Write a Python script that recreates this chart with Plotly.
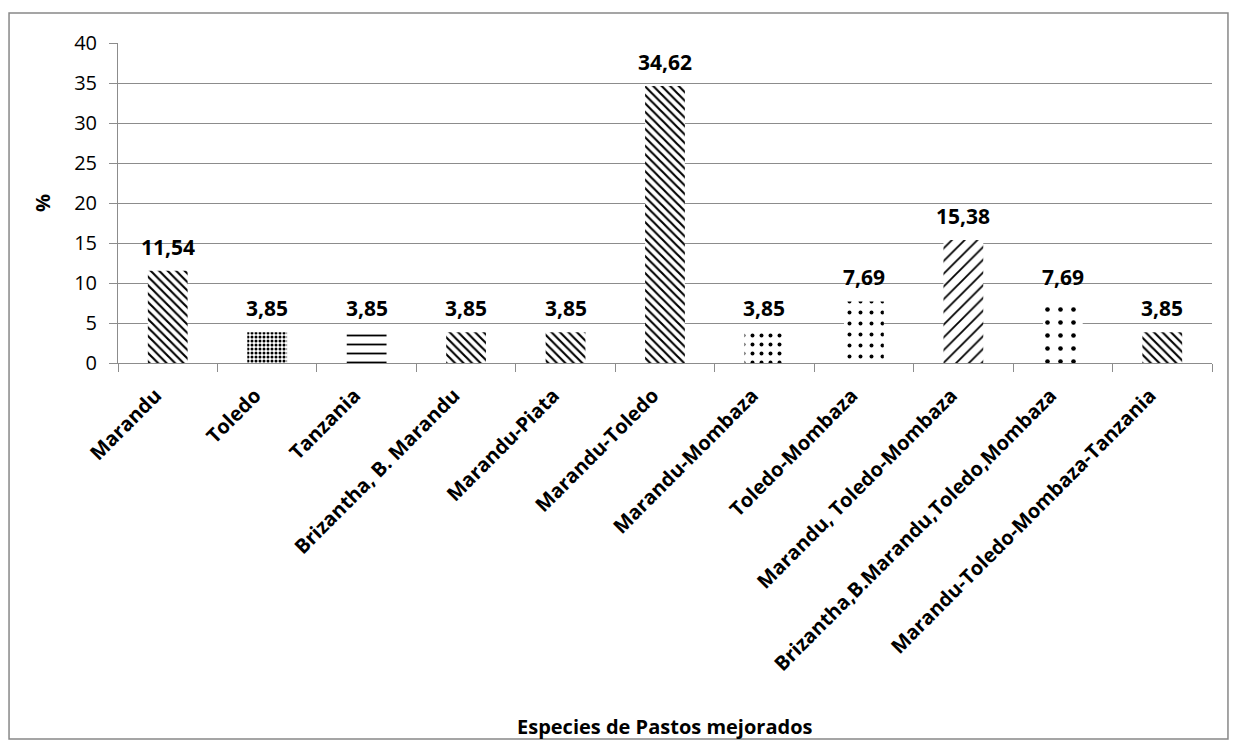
import plotly.graph_objects as go

categories = ["Marandu", "Toledo", "Tanzania", "Brizantha, B. Marandu", "Marandu-Piata",
              "Marandu-Toledo", "Marandu-Mombaza", "Toledo-Mombaza", "Marandu, Toledo-Mombaza",
              "Brizantha,B.Marandu,Toledo,Mombaza", "Marandu-Toledo-Mombaza-Tanzania"]
values = [11.54, 3.85, 3.85, 3.85, 3.85, 34.62, 3.85, 7.69, 15.38, 7.69, 3.85]
labels = ["11,54", "3,85", "3,85", "3,85", "3,85", "34,62", "3,85", "7,69", "15,38", "7,69", "3,85"]
shapes_ = ["\\", ".", "-", "\\", "\\", "\\", ".", ".", "/", ".", "\\"]
sizes = [6, 4, 9, 6, 6, 6, 9, 11, 9, 13, 6]
solid = [0.35, 0.45, 0.2, 0.35, 0.35, 0.35, 0.15, 0.1, 0.2, 0.1, 0.35]

fig = go.Figure(go.Bar(
    x=categories, y=values, width=0.4,
    marker=dict(color="white", line=dict(width=0),
                pattern=dict(shape=shapes_, fgcolor="black", bgcolor="white",
                             size=sizes, solidity=solid, fillmode="replace")),
))

annots = [dict(x=c, y=v, text="<b>%s</b>" % t, xref="x", yref="y", yanchor="bottom",
               yshift=8, showarrow=False, font=dict(size=21, family="Open Sans", color="black"))
          for c, v, t in zip(categories, values, labels)]
annots.append(dict(text="<b>Especies de Pastos mejorados</b>", xref="paper", yref="paper",
                   x=0.5, y=-1.135, yanchor="middle", showarrow=False,
                   font=dict(size=20, family="Open Sans")))

fig.update_layout(
    width=1222, height=733, paper_bgcolor="white", plot_bgcolor="white",
    margin=dict(l=110, r=18, t=35, b=378),
    showlegend=False,
    font=dict(family="Open Sans", color="black"),
    shapes=[dict(type="rect", xref="paper", yref="paper", x0=-0.0996, x1=1.0146, y0=-1.175, y1=1.094,
                 line=dict(color="#888888", width=1.5), fillcolor="rgba(0,0,0,0)", layer="below")],
    annotations=annots,
)
fig.update_yaxes(range=[0, 40], dtick=5, showgrid=True, gridcolor="#8c8c8c", gridwidth=1,
                 showline=True, linecolor="#8c8c8c", ticks="outside", ticklen=8, tickcolor="#8c8c8c",
                 tickfont=dict(size=20, family="Open Sans"), ticklabelstandoff=8,
                 title=dict(text="<b>%</b>", font=dict(size=20), standoff=18), zeroline=False)
fig.update_xaxes(showline=True, linecolor="#8c8c8c", ticks="outside", ticklen=8, tickcolor="#8c8c8c",
                 tickson="boundaries", tickangle=-45, ticklabelstandoff=12, ticklabelshift=-12,
                 tickfont=dict(size=20, family="Open Sans", weight="bold"))

fig.write_html("out.html")
